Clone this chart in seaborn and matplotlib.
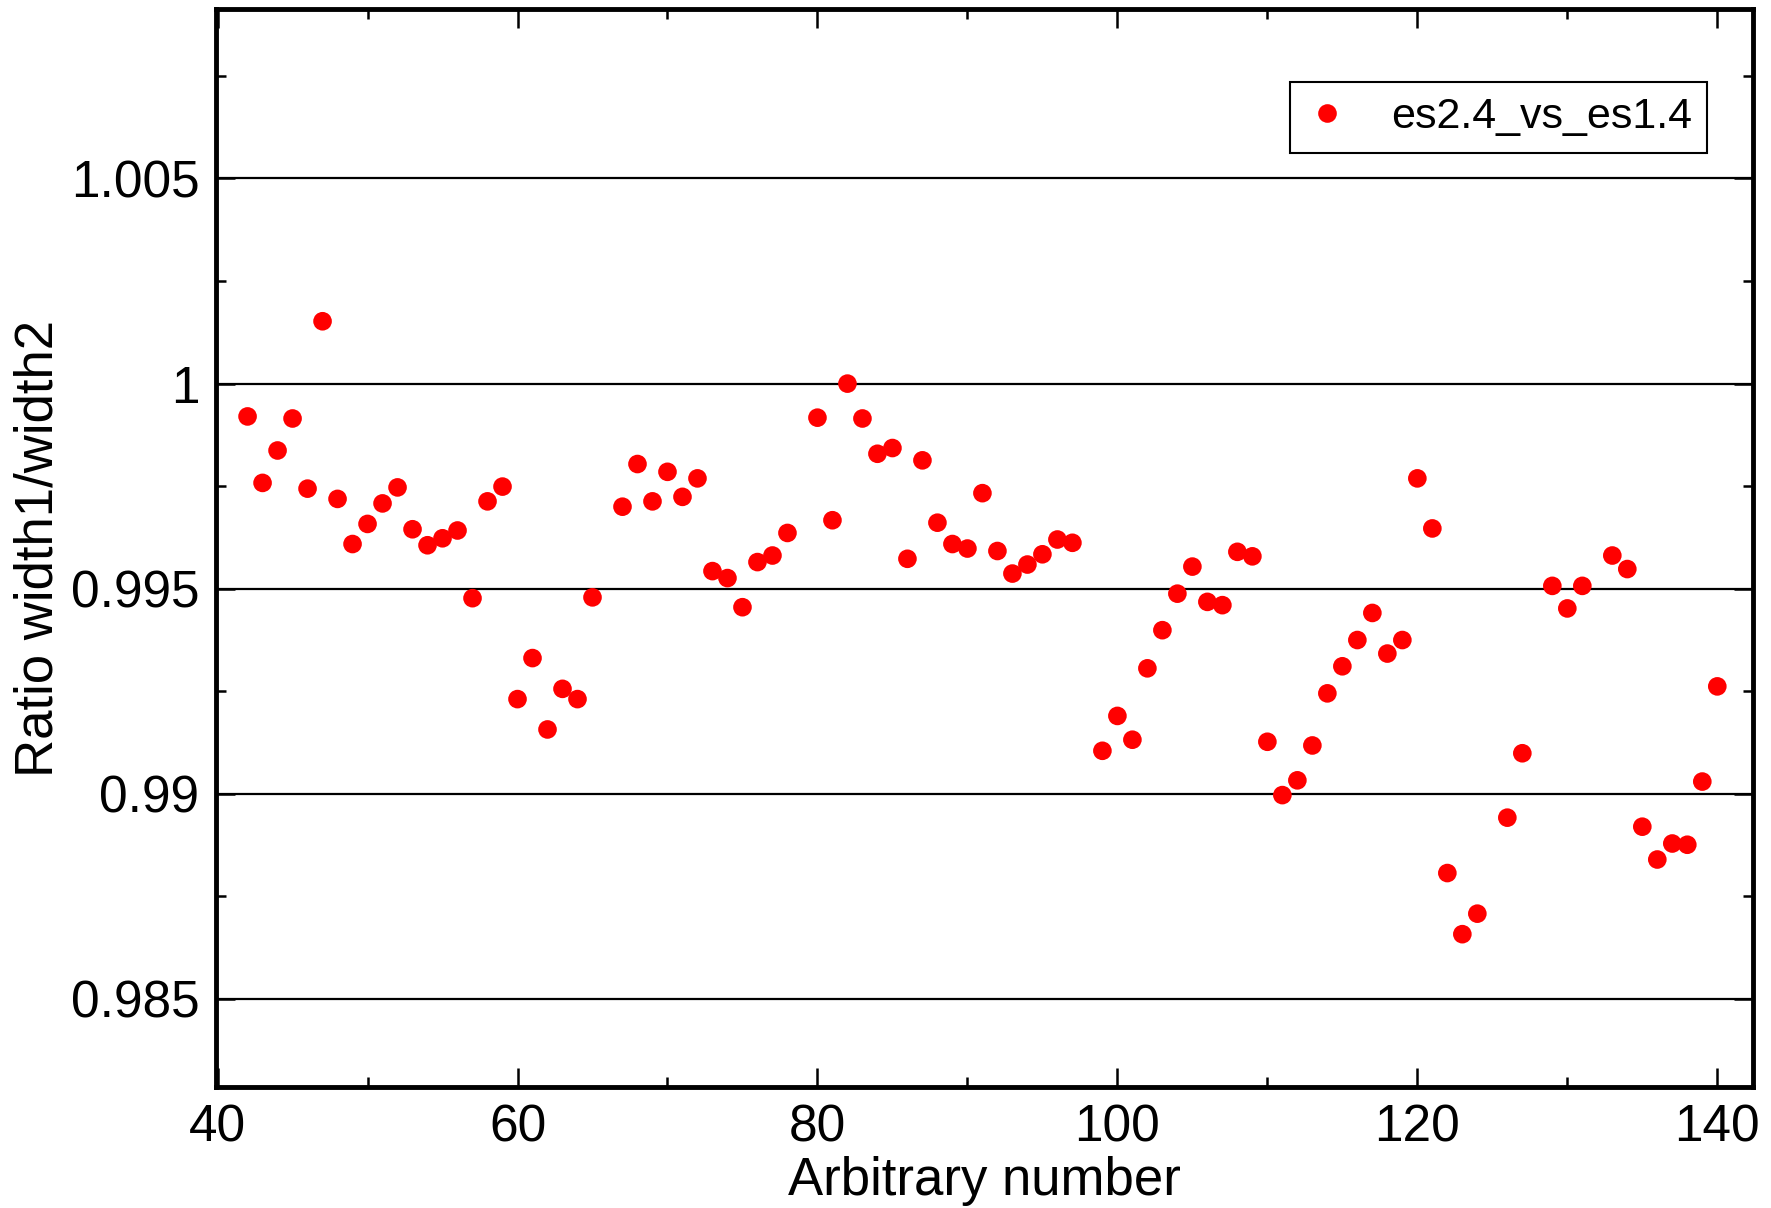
import pandas as pd
import matplotlib
matplotlib.use("Agg")
import matplotlib.pyplot as plt
from matplotlib.ticker import MultipleLocator
import seaborn as sns

# values
x_vals = [42, 43, 44, 45, 46, 47, 48, 49, 50, 51, 52, 53, 54, 55, 56, 57, 58, 59,
          60, 61, 62, 63, 64, 65, 67, 68, 69, 70, 71, 72, 73, 74, 75, 76, 77, 78,
          80, 81, 82, 83, 84, 85, 86, 87, 88, 89, 90, 91, 92, 93, 94, 95, 96, 97,
          99, 100, 101, 102, 103, 104, 105, 106, 107, 108, 109, 110, 111, 112, 113,
          114, 115, 116, 117, 118, 119, 120, 121, 122, 123, 124, 126, 127, 129, 130,
          131, 133, 134, 135, 136, 137, 138, 139, 140]
ratio_vals = [0.99920, 0.99758, 0.99837, 0.99915, 0.99744, 1.00152, 0.99719, 0.99609,
              0.99658, 0.99708, 0.99747, 0.99645, 0.99606, 0.99623, 0.99642, 0.99477,
              0.99713, 0.99749, 0.99231, 0.99331, 0.99157, 0.99256, 0.99231, 0.99479,
              0.99700, 0.99804, 0.99713, 0.99785, 0.99724, 0.99769, 0.99543, 0.99526,
              0.99455, 0.99565, 0.99581, 0.99636, 0.99917, 0.99667, 1.00000, 0.99915,
              0.99829, 0.99843, 0.99573, 0.99813, 0.99661, 0.99609, 0.99598, 0.99733,
              0.99592, 0.99537, 0.99559, 0.99584, 0.99620, 0.99612, 0.99105, 0.99190,
              0.99132, 0.99306, 0.99399, 0.99488, 0.99554, 0.99468, 0.99460, 0.99590,
              0.99579, 0.99127, 0.98997, 0.99033, 0.99118, 0.99245, 0.99311, 0.99375,
              0.99441, 0.99342, 0.99375, 0.99769, 0.99647, 0.98807, 0.98658, 0.98708,
              0.98942, 0.99099, 0.99507, 0.99452, 0.99507, 0.99581, 0.99548, 0.98920,
              0.98840, 0.98879, 0.98876, 0.99030, 0.99262]
series_name = "es2.4_vs_es1.4"

df = pd.DataFrame({"x": x_vals, "ratio": ratio_vals, "series": series_name})

sns.set_theme(style="white")
plt.rcParams['font.family'] = ['Liberation Sans', 'DejaVu Sans']
plt.rcParams['text.color'] = 'black'
plt.rcParams['axes.labelcolor'] = 'black'
plt.rcParams['xtick.color'] = 'black'
plt.rcParams['ytick.color'] = 'black'

fig = plt.figure(figsize=(17.71, 12.08), dpi=100)
ax = fig.add_axes([0.122, 0.100, 0.868, 0.8925])

sns.scatterplot(data=df, x="x", y="ratio", hue="series", palette=["#ff0000"],
                s=180, edgecolor="none", ax=ax, zorder=3)

ax.set_xlim(39.9, 142.4)
ax.set_ylim(0.98285, 1.00913)

ax.xaxis.set_major_locator(MultipleLocator(20))
ax.xaxis.set_minor_locator(MultipleLocator(10))
ax.yaxis.set_major_locator(MultipleLocator(0.005))
ax.yaxis.set_minor_locator(MultipleLocator(0.0025))
ax.yaxis.set_major_formatter(plt.FuncFormatter(lambda v, p: f"{v:.3f}".rstrip("0").rstrip(".")))

ax.tick_params(which="both", direction="in", bottom=True, left=True, top=True, right=True,
               color="black", width=1.8, labelsize=37, labelcolor="black")
ax.tick_params(which="major", length=14, pad=12)
ax.tick_params(which="minor", length=7)

ax.grid(False)
ax.yaxis.grid(True, which="major", color="black", linewidth=1.6)
ax.set_axisbelow(True)

for sp in ax.spines.values():
    sp.set_color("black")
    sp.set_linewidth(3.5)

ax.set_xlabel("Arbitrary number", fontsize=38, labelpad=2)
ax.set_ylabel("Ratio width1/width2", fontsize=38, labelpad=5)

leg = ax.legend(loc="upper right", bbox_to_anchor=(0.970, 0.932), fontsize=31,
                frameon=True, fancybox=False, borderpad=0.35, handletextpad=1.0,
                handlelength=1.0, markerscale=1.0, borderaxespad=0)
leg.get_frame().set_edgecolor("black")
leg.get_frame().set_linewidth(1.5)
leg.get_frame().set_alpha(1)

fig.savefig("out.png", dpi=100)
